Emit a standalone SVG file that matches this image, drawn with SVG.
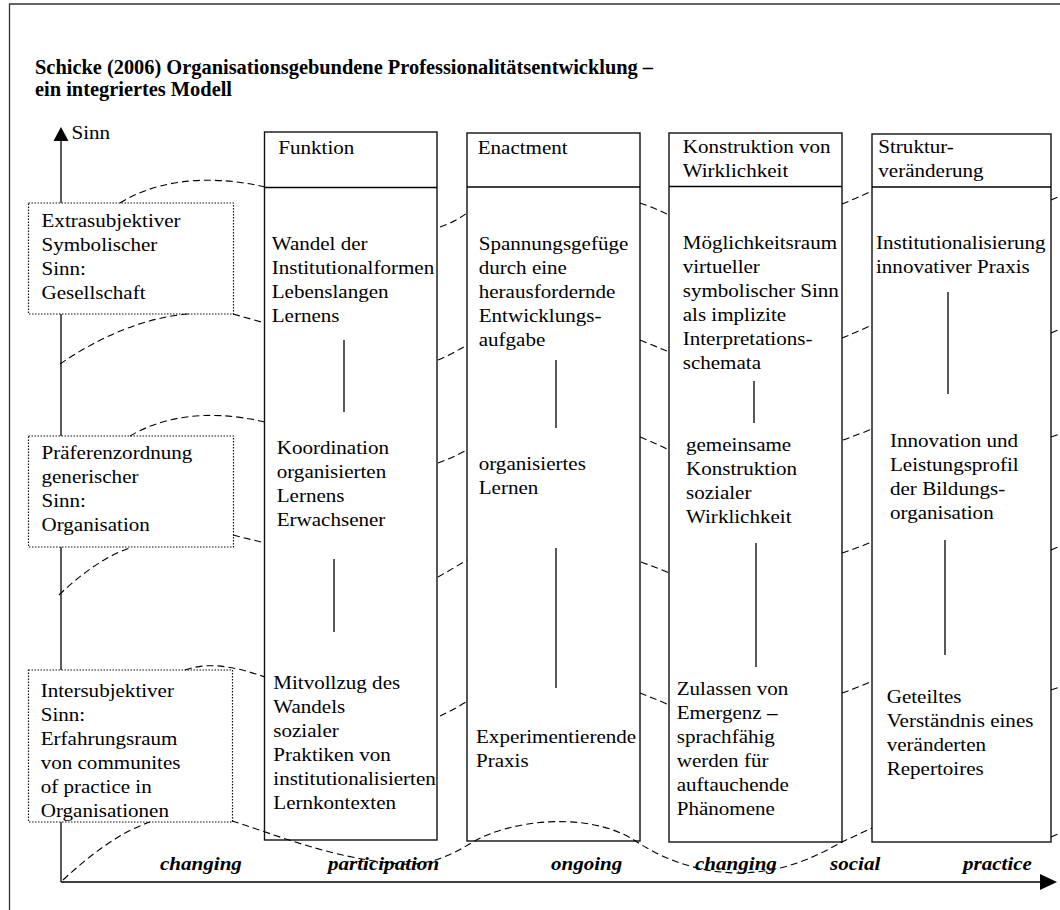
<svg xmlns="http://www.w3.org/2000/svg" width="1060" height="910" viewBox="0 0 1060 910">
<defs>
<style>
.t{font-family:"Liberation Serif","Times New Roman",serif;font-size:18px;fill:#000}
.ti{font-family:"Liberation Serif","Times New Roman",serif;font-size:20px;font-weight:bold;fill:#000}
.ax{font-family:"Liberation Serif","Times New Roman",serif;font-size:18px;font-weight:bold;font-style:italic;fill:#000}
.col{fill:#fff;stroke:#111;stroke-width:1.4}
.dot{fill:#fff;stroke:#111;stroke-width:1.2;stroke-dasharray:1.5 1.5}
.ln{stroke:#000;stroke-width:1.3;fill:none}
.dash{stroke:#000;stroke-width:1.1;fill:none;stroke-dasharray:7 4}
</style>
</defs>
<rect width="1060" height="910" fill="#fff"/>
<path d="M9.5,910 V4 H1060" fill="none" stroke="#333" stroke-width="1.3"/>
<g id="title">
<text class="ti" transform="matrix(1.02 0 0 1 35 0)"><tspan x="0" y="74">Schicke (2006) Organisationsgebundene Professionalitätsentwicklung –</tspan><tspan x="0" y="96">ein integriertes Modell</tspan></text>
</g>
<g id="axes">
<line class="ln" x1="61" y1="140" x2="61" y2="882"/>
<polygon points="53.5,141 61,127 68.5,141" fill="#000"/>
<line class="ln" x1="61" y1="882" x2="1042" y2="882"/>
<polygon points="1040,874 1057,882 1040,890" fill="#000"/>
<text class="t" transform="matrix(1.17 0 0 1 71.5 0)"><tspan x="0" y="139">Sinn</tspan></text>
<text class="ax" transform="matrix(1.17 0 0 1 160 0)"><tspan x="0" y="870">changing</tspan></text>
<text class="ax" transform="matrix(1.17 0 0 1 328 0)"><tspan x="0" y="870">participation</tspan></text>
<text class="ax" transform="matrix(1.17 0 0 1 551 0)"><tspan x="0" y="870">ongoing</tspan></text>
<text class="ax" transform="matrix(1.17 0 0 1 695 0)"><tspan x="0" y="870">changing</tspan></text>
<text class="ax" transform="matrix(1.17 0 0 1 830 0)"><tspan x="0" y="870">social</tspan></text>
<text class="ax" transform="matrix(1.17 0 0 1 963 0)"><tspan x="0" y="870">practice</tspan></text>
</g>
<g id="sinn-gesellschaft">
<rect class="dot" x="28.5" y="203" width="205" height="111"/>
<text class="t" transform="matrix(1.17 0 0 1 41.5 0)"><tspan x="0" y="227">Extrasubjektiver</tspan><tspan x="0" y="251">Symbolischer</tspan><tspan x="0" y="275">Sinn:</tspan><tspan x="0" y="299">Gesellschaft</tspan></text>
</g>
<g id="sinn-organisation">
<rect class="dot" x="28.5" y="436" width="205" height="111"/>
<text class="t" transform="matrix(1.17 0 0 1 41.5 0)"><tspan x="0" y="459">Präferenzordnung</tspan><tspan x="0" y="483">generischer</tspan><tspan x="0" y="507">Sinn:</tspan><tspan x="0" y="531">Organisation</tspan></text>
</g>
<g id="sinn-intersubjektiv">
<rect class="dot" x="28.5" y="670" width="204" height="152"/>
<text class="t" transform="matrix(1.17 0 0 1 40.7 0)"><tspan x="0" y="697">Intersubjektiver</tspan><tspan x="0" y="721">Sinn:</tspan><tspan x="0" y="745">Erfahrungsraum</tspan><tspan x="0" y="769">von communites</tspan><tspan x="0" y="793">of practice in</tspan><tspan x="0" y="817">Organisationen</tspan></text>
</g>
<g id="funktion">
<rect class="col" x="264.5" y="132" width="172.5" height="708"/>
<line class="ln" x1="264.5" y1="187.5" x2="437" y2="187.5"/>
<text class="t" transform="matrix(1.17 0 0 1 278.3 0)"><tspan x="0" y="154">Funktion</tspan></text>
<text class="t" transform="matrix(1.17 0 0 1 271.7 0)"><tspan x="0" y="250">Wandel der</tspan><tspan x="0" y="274">Institutionalformen</tspan><tspan x="0" y="298">Lebenslangen</tspan><tspan x="0" y="322">Lernens</tspan></text>
<text class="t" transform="matrix(1.17 0 0 1 276.7 0)"><tspan x="0" y="454">Koordination</tspan><tspan x="0" y="478">organisierten</tspan><tspan x="0" y="502">Lernens</tspan><tspan x="0" y="526">Erwachsener</tspan></text>
<text class="t" transform="matrix(1.17 0 0 1 273.3 0)"><tspan x="0" y="689">Mitvollzug des</tspan><tspan x="0" y="713">Wandels</tspan><tspan x="0" y="737">sozialer</tspan><tspan x="0" y="761">Praktiken von</tspan><tspan x="0" y="785">institutionalisierten</tspan><tspan x="0" y="809">Lernkontexten</tspan></text>
</g>
<g id="enactment">
<rect class="col" x="467" y="133" width="173" height="708"/>
<line class="ln" x1="467" y1="187" x2="640" y2="187"/>
<text class="t" transform="matrix(1.17 0 0 1 477.7 0)"><tspan x="0" y="154">Enactment</tspan></text>
<text class="t" transform="matrix(1.17 0 0 1 478.7 0)"><tspan x="0" y="250">Spannungsgefüge</tspan><tspan x="0" y="274">durch eine</tspan><tspan x="0" y="298">herausfordernde</tspan><tspan x="0" y="322">Entwicklungs-</tspan><tspan x="0" y="346">aufgabe</tspan></text>
<text class="t" transform="matrix(1.17 0 0 1 478.7 0)"><tspan x="0" y="470">organisiertes</tspan><tspan x="0" y="494">Lernen</tspan></text>
<text class="t" transform="matrix(1.17 0 0 1 476 0)"><tspan x="0" y="743">Experimentierende</tspan><tspan x="0" y="767">Praxis</tspan></text>
</g>
<g id="konstruktion">
<rect class="col" x="669" y="133" width="173" height="709"/>
<line class="ln" x1="669" y1="186.5" x2="842" y2="186.5"/>
<text class="t" transform="matrix(1.17 0 0 1 682.7 0)"><tspan x="0" y="153">Konstruktion von</tspan><tspan x="0" y="177">Wirklichkeit</tspan></text>
<text class="t" transform="matrix(1.17 0 0 1 682.7 0)"><tspan x="0" y="249">Möglichkeitsraum</tspan><tspan x="0" y="273">virtueller</tspan><tspan x="0" y="297">symbolischer Sinn</tspan><tspan x="0" y="321">als implizite</tspan><tspan x="0" y="345">Interpretations-</tspan><tspan x="0" y="369">schemata</tspan></text>
<text class="t" transform="matrix(1.17 0 0 1 686 0)"><tspan x="0" y="451">gemeinsame</tspan><tspan x="0" y="475">Konstruktion</tspan><tspan x="0" y="499">sozialer</tspan><tspan x="0" y="523">Wirklichkeit</tspan></text>
<text class="t" transform="matrix(1.17 0 0 1 676.7 0)"><tspan x="0" y="695">Zulassen von</tspan><tspan x="0" y="719">Emergenz <tspan font-weight="bold">–</tspan></tspan><tspan x="0" y="743">sprachfähig</tspan><tspan x="0" y="767">werden für</tspan><tspan x="0" y="791">auftauchende</tspan><tspan x="0" y="815">Phänomene</tspan></text>
</g>
<g id="strukturveraenderung">
<rect class="col" x="872" y="134" width="179" height="708"/>
<line class="ln" x1="872" y1="187" x2="1051" y2="187"/>
<text class="t" transform="matrix(1.17 0 0 1 878.3 0)"><tspan x="0" y="153">Struktur-</tspan><tspan x="0" y="177">veränderung</tspan></text>
<text class="t" transform="matrix(1.17 0 0 1 876 0)"><tspan x="0" y="249">Institutionalisierung</tspan><tspan x="0" y="273">innovativer Praxis</tspan></text>
<text class="t" transform="matrix(1.17 0 0 1 890 0)"><tspan x="0" y="447">Innovation und</tspan><tspan x="0" y="471">Leistungsprofil</tspan><tspan x="0" y="495">der Bildungs-</tspan><tspan x="0" y="519">organisation</tspan></text>
<text class="t" transform="matrix(1.17 0 0 1 886.7 0)"><tspan x="0" y="703">Geteiltes</tspan><tspan x="0" y="727">Verständnis eines</tspan><tspan x="0" y="751">veränderten</tspan><tspan x="0" y="775">Repertoires</tspan></text>
</g>
<g id="connectors">
<line class="ln" x1="344" y1="340" x2="344" y2="412"/>
<line class="ln" x1="334" y1="559" x2="334" y2="632"/>
<line class="ln" x1="556" y1="360" x2="556" y2="428"/>
<line class="ln" x1="556" y1="548" x2="556" y2="688"/>
<line class="ln" x1="754" y1="381" x2="754" y2="423"/>
<line class="ln" x1="756" y1="543" x2="756" y2="667"/>
<line class="ln" x1="948" y1="292" x2="948" y2="394"/>
<line class="ln" x1="945" y1="540" x2="945" y2="655"/>
<path class="dash" d="M120,203 C150,184 200,172 265,187"/>
<path class="dash" d="M440,227 Q455,222 467,213"/>
<path class="dash" d="M640,203 Q655,208 669,215"/>
<path class="dash" d="M842,204 Q857,198 872,191"/>
<path class="dash" d="M1051,200 L1060,196"/>
<path class="dash" d="M60,364 C95,340 140,318 188,314"/>
<path class="dash" d="M233,314 L265,323"/>
<path class="dash" d="M438,360 Q452,354 467,345"/>
<path class="dash" d="M640,340 Q655,346 669,352"/>
<path class="dash" d="M842,338 Q857,332 872,325"/>
<path class="dash" d="M1051,333 L1060,329"/>
<path class="dash" d="M130,436 C160,418 205,408 265,422"/>
<path class="dash" d="M438,463 Q452,458 467,450"/>
<path class="dash" d="M640,437 Q655,443 669,450"/>
<path class="dash" d="M843,440 Q857,435 872,429"/>
<path class="dash" d="M1051,437 L1060,434"/>
<path class="dash" d="M59,595 C80,575 105,556 130,548"/>
<path class="dash" d="M233,535 L265,543"/>
<path class="dash" d="M438,577 Q452,569 467,560"/>
<path class="dash" d="M641,562 Q655,567 669,573"/>
<path class="dash" d="M842,553 Q857,548 872,542"/>
<path class="dash" d="M1051,550 L1060,546"/>
<path class="dash" d="M185,670 C205,663 228,664 265,677"/>
<path class="dash" d="M440,716 Q453,710 466,702"/>
<path class="dash" d="M640,693 Q653,698 667,704"/>
<path class="dash" d="M842,693 Q857,688 872,681"/>
<path class="dash" d="M1051,690 L1060,687"/>
<path class="dash" d="M63,880 C90,855 120,832 150,822"/>
<path class="dash" d="M232,821 C280,836 330,858 400,864 C428,866 450,856 473,842 C510,820 590,810 637,842 C665,860 700,873 740,873 C785,872 815,857 842,842 L872,828"/>
<path class="dash" d="M1051,837 L1060,833"/>
</g>
</svg>
